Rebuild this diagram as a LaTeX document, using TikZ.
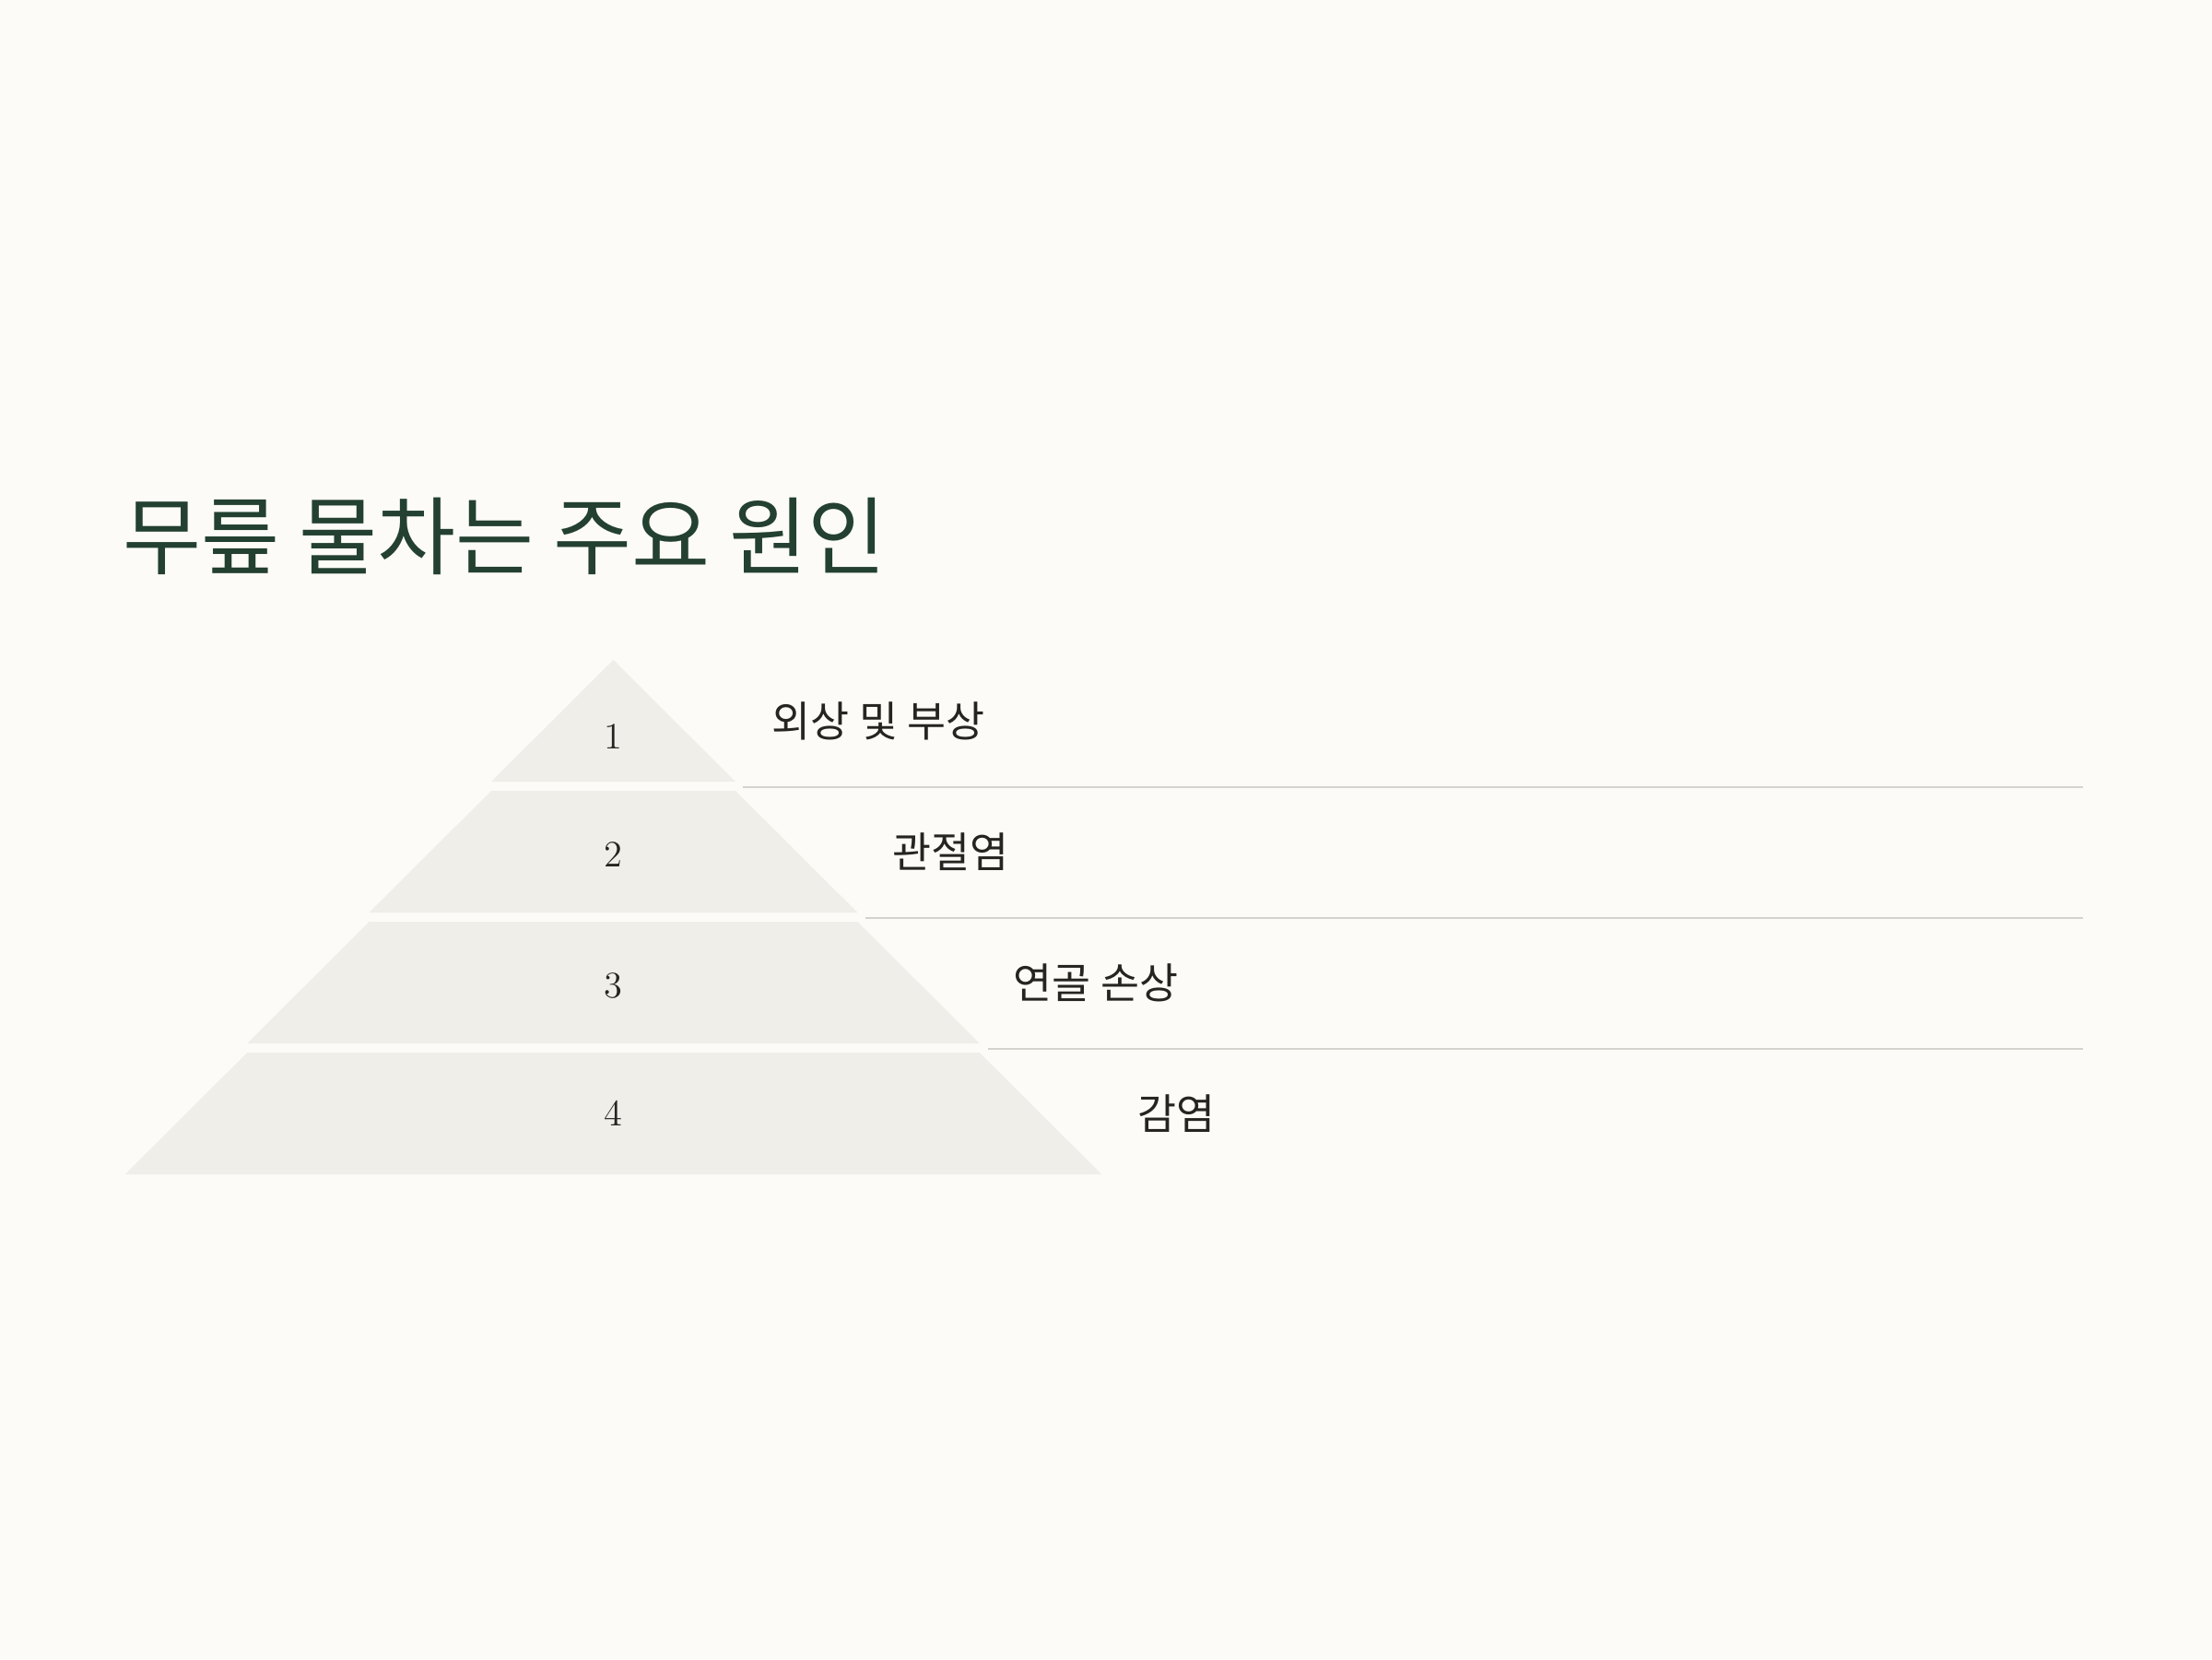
\documentclass[tikz,border=0pt]{standalone}
\usepackage{fontspec}
\newfontfamily\krfont{Noto Sans CJK KR}
\usetikzlibrary{positioning}
\definecolor{kbg}{RGB}{252,251,247}
\definecolor{pyrfill}{RGB}{240,238,232}
\definecolor{titlegreen}{RGB}{35,64,48}
\definecolor{txtdark}{RGB}{38,36,32}
\definecolor{rulegray}{RGB}{212,210,204}

\begin{document}
\begin{tikzpicture}[
  numlbl/.style={font=\fontsize{11.5}{13}\selectfont, txtdark, anchor=base, inner sep=0pt},
  causelbl/.style={font=\krfont\fontsize{13}{15}\selectfont, txtdark, anchor=base west, inner sep=0pt},
  sepline/.style={draw=rulegray, line width=0.57pt}
]
% -- Background --
\fill[kbg] (0,0) rectangle (24,18);
\useasboundingbox (0,0) rectangle (24,18);
% -- Title --
\node[font=\krfont\fontsize{26.3}{30}\selectfont, titlegreen, anchor=base west, inner sep=0pt]
  (title) at (1.33,11.84) {무릎 물차는 주요 원인};
% -- Pyramid bands, numbers and causes --
\foreach \i/\numy/\lbly/\lblx/\lbl in {1/9.88/10.01/8.37/외상 및 부상,
  2/8.60/8.59/9.68/관절염, 3/7.18/7.17/10.99/연골 손상, 4/5.79/5.75/12.34/감염} {
  \pgfmathsetmacro{\yt}{10.84-(\i-1)*1.42}
  \pgfmathsetmacro{\yb}{\yt-1.32}
  \pgfmathsetmacro{\wt}{(\i-1)*1.324}
  \pgfmathsetmacro{\wb}{\i*1.324}
  \fill[pyrfill] (6.655-\wb,\yb) -- (6.655+\wb,\yb) -- (6.655+\wt,\yt) -- (6.655-\wt,\yt) -- cycle;
  \node[numlbl] (num\i) at (6.655,\numy) {\i};
  \node[causelbl] (cause\i) at (\lblx,\lbly) {\lbl};
}
% -- Separator rules --
\foreach \j/\ly/\lx in {1/9.46/8.06, 2/8.04/9.39, 3/6.62/10.72} {
  \coordinate (sepL\j) at (\lx,\ly);
  \coordinate (sepR\j) at (22.60,\ly);
  \draw[sepline] (sepL\j) -- (sepR\j);
}
\end{tikzpicture}
\end{document}
